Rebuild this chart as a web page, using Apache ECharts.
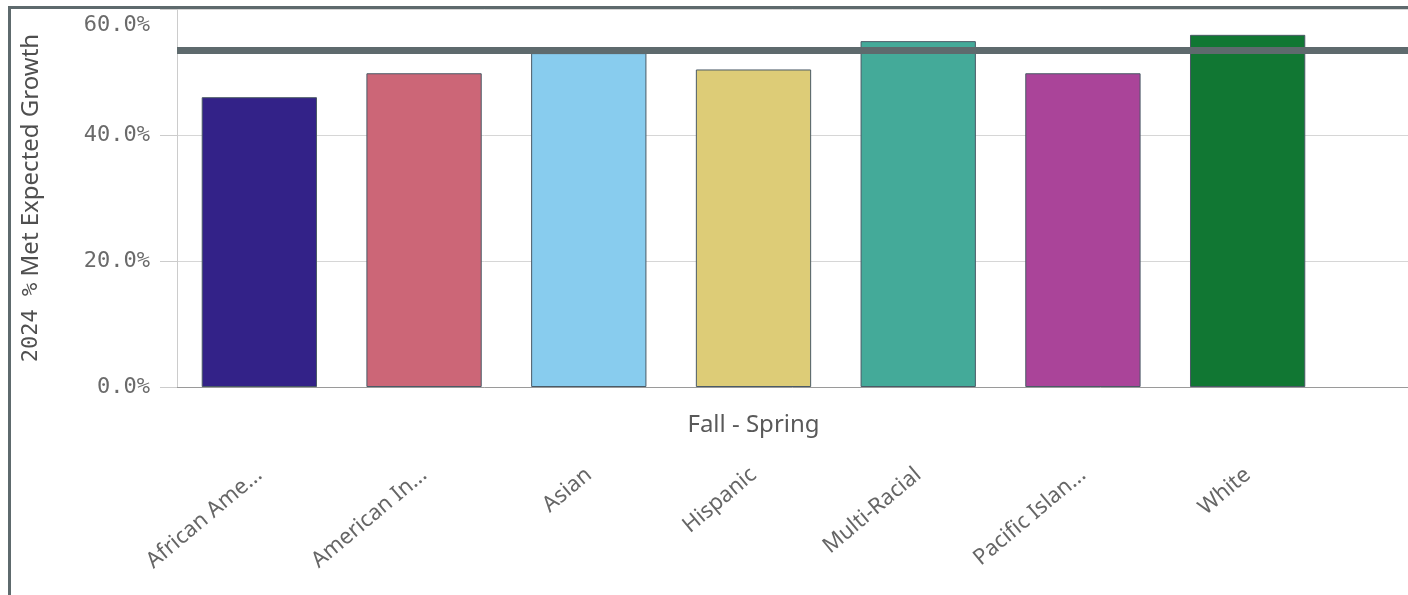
<!DOCTYPE html>
<html>
<head>
<meta charset="utf-8">
<script src="https://cdn.jsdelivr.net/npm/echarts@6/dist/echarts.min.js"></script>
<style>
  html, body { margin: 0; padding: 0; background: #fff; }
  #wrap { position: relative; width: 1408px; height: 595px; overflow: hidden; }
  #chart { position: absolute; left: 0; top: 0; width: 1408px; height: 595px; }
  #frame { position: absolute; left: 8px; top: 6px; right: -10px; bottom: -10px;
           border-left: 3px solid #5e6a6d; border-top: 3px solid #5e6a6d; pointer-events: none; }
</style>
</head>
<body>
<div id="wrap">
  <div id="chart"></div>
  <div id="frame"></div>
</div>
<script>
// categories along the x axis
var categories = ['African Ame...', 'American In...', 'Asian', 'Hispanic', 'Multi-Racial', 'Pacific Islan...', 'White'];
// 2024 % met expected growth, Fall - Spring
var metGrowth = [46.0, 49.8, 53.0, 50.4, 54.9, 49.8, 55.9];
// reference line value
var targetValue = 53.5;
// y axis ticks
var yTicks = [0, 20, 40, 60];

var barColors = ['#332288', '#cc6677', '#88ccee', '#ddcc77', '#44aa99', '#aa4499', '#117733'];

var chart = echarts.init(document.getElementById('chart'));

var yMin = yTicks[0], yMax = yTicks[yTicks.length - 1], yStep = yTicks[1] - yTicks[0];

var option = {
    animation: false,
    grid: [
        // full width: axes, gridlines, reference line
        { left: 177, right: 0, top: 9, bottom: 208, outerBoundsMode: 'none', containLabel: false },
        // bars area
        { left: 177, width: 1153, top: 9, bottom: 208, outerBoundsMode: 'none', containLabel: false }
    ],
    xAxis: [
        {
            gridIndex: 0, type: 'value', min: 0, max: 1,
            axisLine: { show: true, lineStyle: { color: '#9a9a9a', width: 1 } },
            axisTick: { show: false }, axisLabel: { show: false }, splitLine: { show: false }
        },
        {
            gridIndex: 1, type: 'category', data: categories,
            axisLine: { show: false }, axisTick: { show: false },
            name: 'Fall - Spring', nameLocation: 'middle', nameGap: 26, nameMoveOverlap: false,
            nameTextStyle: { color: '#595959', fontSize: 24, fontFamily: 'Noto Sans' },
            axisLabel: {
                rotate: 40, margin: 85, interval: 0,
                color: '#666', fontSize: 22, fontFamily: 'Noto Sans'
            }
        }
    ],
    yAxis: [
        {
            gridIndex: 0, type: 'value', min: yMin, max: yMax, interval: yStep,
            axisLine: { show: true, lineStyle: { color: '#cccccc' } },
            axisTick: { show: true, length: 17, lineStyle: { color: '#cccccc' } },
            splitLine: { lineStyle: { color: '#d6d6d6' } },
            axisLabel: {
                margin: 27, color: '#6a6a6a', fontSize: 22, fontFamily: 'DejaVu Sans Mono',
                lineHeight: 32,
                formatter: function (v) {
                    var s = v.toFixed(1) + '%';
                    return v === yMax ? '\n' + s : s;
                }
            },
            name: '{m|2024 %} Met Expected Growth',
            nameLocation: 'middle', nameGap: 134, nameRotate: 90, nameMoveOverlap: false,
            nameTextStyle: {
                color: '#4f4f4f', fontSize: 24, fontFamily: 'Noto Sans',
                rich: { m: { fontFamily: 'DejaVu Sans Mono', fontSize: 22, color: '#4f4f4f' } }
            }
        },
        {
            gridIndex: 1, type: 'value', min: yMin, max: yMax, interval: yStep, show: false
        }
    ],
    series: [
        {
            type: 'bar', xAxisIndex: 1, yAxisIndex: 1,
            barCategoryGap: '30%',
            data: metGrowth.map(function (v, i) {
                return { value: v, itemStyle: { color: barColors[i] } };
            }),
            itemStyle: { borderColor: '#4a5a66', borderWidth: 1 },
            z: 2
        },
        {
            type: 'line', xAxisIndex: 0, yAxisIndex: 0, data: [],
            markLine: {
                silent: true, symbol: 'none', label: { show: false },
                lineStyle: { color: '#5e6a6d', width: 7, type: 'solid' },
                data: [{ yAxis: targetValue }]
            },
            z: 5
        }
    ]
};

chart.setOption(option);
</script>
</body>
</html>
